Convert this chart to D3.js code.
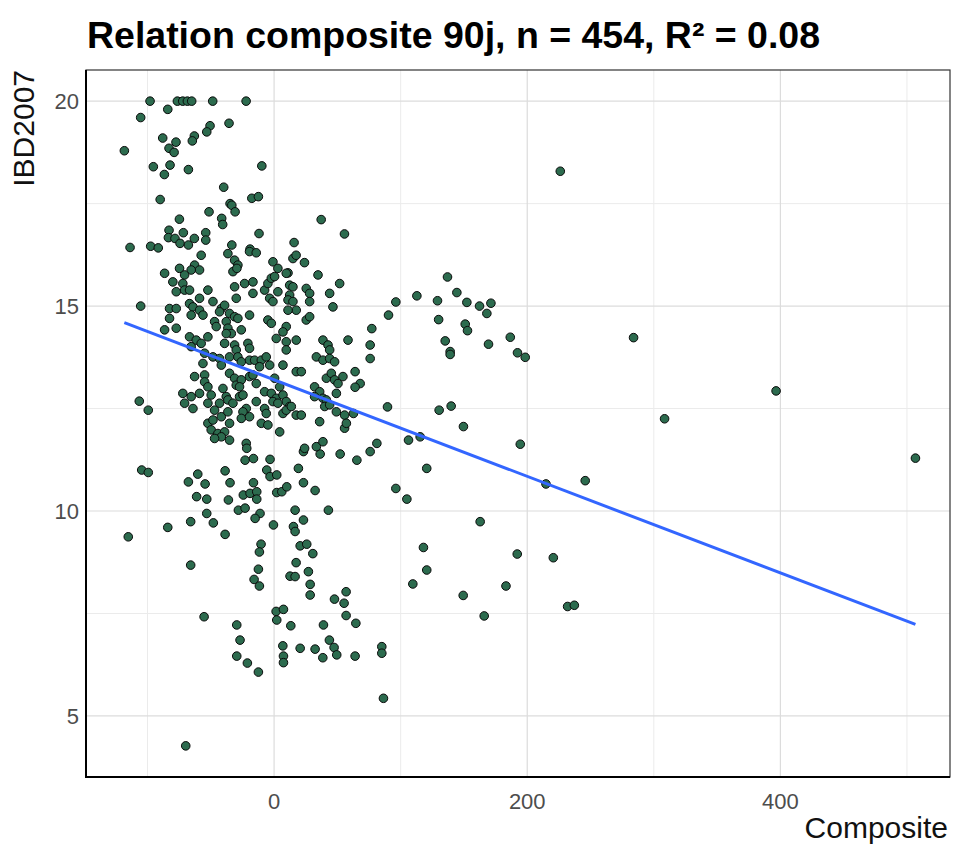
<!DOCTYPE html>
<html><head><meta charset="utf-8">
<script src="https://cdn.jsdelivr.net/npm/d3@7"></script>
<style>body{margin:0;background:#fff}svg{display:block}</style>
</head><body>
<script>
const composite = [
-98,-76.4,-72.2,-68.5,-65.1,-84,-48.5,-105.4,-35.6,-50.6,-53.2,-88,-77.5,-63,-64.6,-118.3,-83,-79,-95.4,-82.2,-86.7,-67.7,-39.8,-90,-34.8,-33.4,-30.8,-51.4,-41.4,-40.6,-74.8,-83,-83.5,-71.7,-78.3,-74.3,-67.7,-63,-54,-54,-113.8,-97.5,-91.5,-33.4,-105.4,
-22.1,-9.7,-17.6,-12.4,37.2,-11.9,55.6,-19,15.8,
-106.5,-99.4,-104.6,-99.4,-67.7,-60.3,-54.5,-38.7,-34.8,-61.2,-53.2,-36.1,-53.2,-48,-65.9,-84,-28.2,
77.2,75.9,75.9,64,68,64,62.7,81.2,75.9,65.4,52.2,36.4,23.2,-22.9,-16.3,-3.2,-5.8,-3.2,2.1,19.2,23.2,-16.3,2.1,6.1,10,-24.3,-19,-13.7,-13.7,32.4,-22.9,-11.1,-15,16.6,42.9,23.2,15.3,-0.5,
-57.6,-62.8,-58.9,-65.5,-36.5,-31.2,-28.6,-32.5,-29.4,-19.4,-14.1,-0.9,3.0,11.0,14.9,17.4,24,-86.5,-74.7,-70.7,
-80.0,-72.1,-77.3,-70.7,-66.8,-52.3,-58.9,-31.2,-23.3,-16.7,-16.7,-29.9,-7.5,-4.9,-2.2,0.4,3.0,-3.5,-0.9,12.3,14.9,12.3,25.4,28.1,34.7,43.9,51.8,9.6,
-66.8,-64.1,-58.9,-56.2,-65.5,-48.3,-41.7,-39.1,-43.1,-35.2,-31.2,-19.4,-4.9,-2.2,11.0,14.9,17.5,11.0,28.1,46.5,-82.6,-77.3,
-82.6,-86.5,-77.3,-47,-45.7,-37.8,-36.5,-28.6,-33.8,-25.9,-37.8,9.6,7,1.7,9.6,17.5,25.4,28.1,-66.8,-61.5,-52.3,-57.6,-65.5,-39.1,-31.2,-29.9,-20.7,-19.4,38.6,42.6,43.9,58.4,
-54.9,-48.3,-43.1,-41.7,-35.2,-28.6,-25.9,-19.4,-15.4,-10.1,-6.2,-3.5,-11.5,7.0,9.6,17.5,21.5,33.4,38.6,43.9,47.8,-56.2,
-62.8,-54.9,-54.9,-52.3,-35.2,-31.2,-29.9,-25.9,-27.3,-19.4,-14.1,-16.7,-40.4,-37.8,-7.5,-2.2,0.4,4.4,1.7,7,9.6,12.3,32,36,41.3,45.2,47.8,50.5,49.2,54.4,-72.1,-65.5,-58.9,-49.7,-43.1,-27.3,-24.6,-36.5,
-70.7,-64.1,-52.3,-47,-32.5,-22,-24.6,-25.9,-19.4,-14.1,-7.5,-6.2,-0.9,3,7,9.6,13.6,17.5,21.5,32,38.6,41.3,40,43.9,49.2,55.7,-52.3,-48.3,-41.7,-36.5,-35.2,
-49.7,-44.4,-39.1,-35.2,-41.7,-47.0,-10.1,-4.9,4.4,-22.0,36.0,33.4,38.6,55.7,57.1,24.1,-21.6,
-115.2,-38.7,-65.9,-55.3,-29.5,-26.9,-29.5,-69.8,
16.6,-10.3,-11.6,20.6,25.8,30.6,17.4,-12.4,-15.8,-11.6,12.6,16.6,27.1,28.5,28.5,56.9,55.3,47.7,56.9,64.6,1.6,7.4,2.1,13.2,39,6.9,7.4,7.4,20.6,32.4,38.5,43.7,47.4,49.5,64,-21.1,-12.4,
226.1,137,96.2,112.8,129.1,144.4,152.3,162.3,171.3,168.1,90.4,130,151,152.8,135.2,139.1,139.1,169.4,186.6,192.3,198.4,284,89.6,130.4,139.9,149.6,
106.2,115.4,194.5,120.6,96.2,104.9,214.8,245.8,162.8,118,120.6,109.6,192.1,220.6,183.2,149.4,166,231.9,237.2,85.1,85.1,86.4,
308.5,396.6,506.7];
const ibd2007 = [
20,20,20,20,20,19.8,20,19.6,19.46,19.4,19.25,19.1,19,19.15,19.03,18.79,18.85,18.75,18.4,18.44,18.21,18.33,17.9,17.6,17.5,17.46,17.3,17.3,17.14,16.99,17.12,16.85,16.67,16.79,16.65,16.53,16.49,16.65,16.79,16.61,16.43,16.46,16.42,16.49,15,
20,18.42,17.63,17.67,17.11,16.77,16.76,16.39,16.55,
12.68,12.46,11,10.94,10.71,10.9,10.66,10.98,10.69,10.35,10.29,10.27,9.94,9.71,9.74,9.6,10.02,
14.45,14.05,13.72,13.4,13.11,13.02,12.38,11.65,11.45,11.24,11.39,11.39,11.45,11.24,11.28,11.26,11,10.84,10.88,11.04,10.69,10.69,10.45,10.47,10.59,10.39,10.43,10.47,10.29,10.5,10.07,9.94,9.82,10.02,10.02,9.78,9.62,9.66,
16.24,16.0,15.88,15.88,16.28,16.12,16.0,15.84,15.92,16.33,16.30,16.08,15.92,15.81,16.16,16.24,16.06,15.80,15.92,15.76,
15.59,15.55,15.35,15.39,15.39,15.39,15.19,15.47,15.55,15.59,15.31,15.19,15.39,15.55,15.68,15.72,15.35,15.19,15.11,15.51,15.47,15.27,15.43,15.31,15.76,15.31,15.55,15.80,
15.06,14.98,14.90,14.78,14.78,15.11,14.94,15.02,14.86,14.82,14.74,14.78,14.66,14.58,15.15,15.11,14.90,14.90,15.11,14.98,14.94,14.94,
14.70,14.42,14.46,14.62,14.50,14.62,14.46,14.70,14.33,14.42,14.33,14.50,14.37,14.21,14.13,14.17,14.66,14.74,14.25,14.17,14.25,14.09,14.01,14.09,14.05,13.93,14.09,13.97,14.17,14.05,13.93,14.17,
13.85,13.76,13.72,13.56,13.76,13.76,13.64,13.68,13.68,13.68,13.76,13.56,13.52,13.56,13.93,13.40,13.40,13.76,13.68,13.72,13.64,13.60,
13.28,13.32,13.15,13.03,13.36,13.24,13.07,13.20,13.03,13.28,13.11,13.32,12.99,12.79,12.91,12.87,13.24,13.03,12.75,12.83,12.67,12.55,13.03,12.91,13.24,13.36,13.20,13.11,12.87,13.28,12.87,12.79,12.87,12.83,12.63,12.79,12.83,12.71,
12.63,12.50,12.63,12.46,12.63,12.50,12.42,12.26,12.30,12.67,12.50,12.38,12.67,12.63,12.38,12.46,12.55,12.34,12.34,12.79,12.75,12.71,12.55,12.59,12.42,12.34,12.14,12.22,12.30,12.42,12.14,
11.98,11.89,11.93,11.73,11.81,11.77,12.14,12.10,11.93,11.65,12.18,11.57,11.69,12.02,12.14,11.53,11.53,
9.37,9.43,8.68,7.42,7.22,6.85,6.46,4.27,
9.5,9.19,9,9.15,9.19,8.96,8.74,8.58,8.33,8.17,8.41,8.4,8.52,8.21,7.95,8.03,7.75,7.85,7.45,7.26,7.55,7.6,7.34,7.2,7.22,6.71,6.46,6.3,6.65,6.63,6.42,6.85,6.67,6.49,6.46,6.29,6.07,
18.29,15.71,15.1,15.25,15.13,15.33,15.09,15,15.07,14.82,14.78,14.67,14.56,14.4,14.15,13.89,13.82,14.07,14.24,13.86,13.75,14.23,12.54,12.46,12.56,12.06,
11.73,11.81,11.63,11.04,10.55,10.29,10.66,10.74,9.74,9.11,8.56,8.22,8.95,8.86,8.17,7.94,7.44,7.67,7.7,6.69,6.53,5.43,
12.25,12.93,11.29];

// fitted linear model
const fitIntercept = 13.202;
const fitSlope = -0.011783;
const xTicks = [0, 200, 400];
const xMinorTicks = [-100, 100, 300, 500];
const yTicks = [5, 10, 15, 20];
const yMinorTicks = [7.5, 12.5, 17.5];
const titleText = "Relation composite 90j, n = 454, R\u00B2 = 0.08";

const W = 956, H = 845;
const m = {l: 86, r: 950, t: 70, b: 777};
const svg = d3.select("body").append("svg").attr("width", W).attr("height", H);
const x = d3.scaleLinear().domain([-148.6, 534]).range([m.l, m.r]);
const y = d3.scaleLinear().domain([3.51, 20.76]).range([m.b, m.t]);

const g = svg.append("g");
g.selectAll(".xmin").data(xMinorTicks).join("line").attr("x1", d => x(d)).attr("x2", d => x(d)).attr("y1", m.t).attr("y2", m.b).attr("stroke", "#ebebeb").attr("stroke-width", 1);
g.selectAll(".ymin").data(yMinorTicks).join("line").attr("y1", d => y(d)).attr("y2", d => y(d)).attr("x1", m.l).attr("x2", m.r).attr("stroke", "#ebebeb").attr("stroke-width", 1);
g.selectAll(".xmaj").data(xTicks).join("line").attr("x1", d => x(d)).attr("x2", d => x(d)).attr("y1", m.t).attr("y2", m.b).attr("stroke", "#dcdcdc").attr("stroke-width", 1.2);
g.selectAll(".ymaj").data(yTicks).join("line").attr("y1", d => y(d)).attr("y2", d => y(d)).attr("x1", m.l).attr("x2", m.r).attr("stroke", "#dcdcdc").attr("stroke-width", 1.2);

const pts = composite.map((c, i) => ({c, v: ibd2007[i]}));
g.selectAll("circle").data(pts).join("circle")
  .attr("cx", d => x(d.c)).attr("cy", d => y(d.v)).attr("r", 4.3)
  .attr("fill", "#2c6b4e")
  .attr("stroke", "#0a0a0a").attr("stroke-width", 1);

const xr = d3.extent(composite);
g.append("line")
  .attr("x1", x(xr[0])).attr("y1", y(fitIntercept + fitSlope * xr[0]))
  .attr("x2", x(xr[1])).attr("y2", y(fitIntercept + fitSlope * xr[1]))
  .attr("stroke", "#3366FF").attr("stroke-width", 3);

svg.append("rect").attr("x", m.l).attr("y", m.t).attr("width", m.r - m.l).attr("height", m.b - m.t)
  .attr("fill", "none").attr("stroke", "#333").attr("stroke-width", 1.2);
svg.append("line").attr("x1", m.l).attr("x2", m.l).attr("y1", m.t).attr("y2", m.b + 1).attr("stroke", "#000").attr("stroke-width", 2);
svg.append("line").attr("x1", m.l - 1).attr("x2", m.r).attr("y1", m.b).attr("y2", m.b).attr("stroke", "#000").attr("stroke-width", 2);

const font = "'Liberation Sans', Arial, sans-serif";
svg.selectAll(".xt").data(xTicks).join("text").attr("x", d => x(d)).attr("y", 809)
  .attr("text-anchor", "middle").attr("font-family", font).attr("font-size", 22).attr("fill", "#4d4d4d").text(d => d);
svg.selectAll(".yt").data(yTicks).join("text").attr("x", 79).attr("y", d => y(d) + 8)
  .attr("text-anchor", "end").attr("font-family", font).attr("font-size", 22).attr("fill", "#4d4d4d").text(d => d);

svg.append("text").attr("x", 948).attr("y", 838).attr("text-anchor", "end")
  .attr("font-family", font).attr("font-size", 30).attr("fill", "#111").text("Composite");
svg.append("text").attr("transform", "translate(34,70) rotate(-90)").attr("text-anchor", "end")
  .attr("font-family", font).attr("font-size", 30).attr("fill", "#111").text("IBD2007");

svg.append("text").attr("x", 87).attr("y", 48).attr("font-family", font).attr("font-weight", "bold")
  .attr("font-size", 36).attr("fill", "#000").attr("textLength", 733).attr("lengthAdjust", "spacingAndGlyphs").text(titleText);
</script>
</body></html>
